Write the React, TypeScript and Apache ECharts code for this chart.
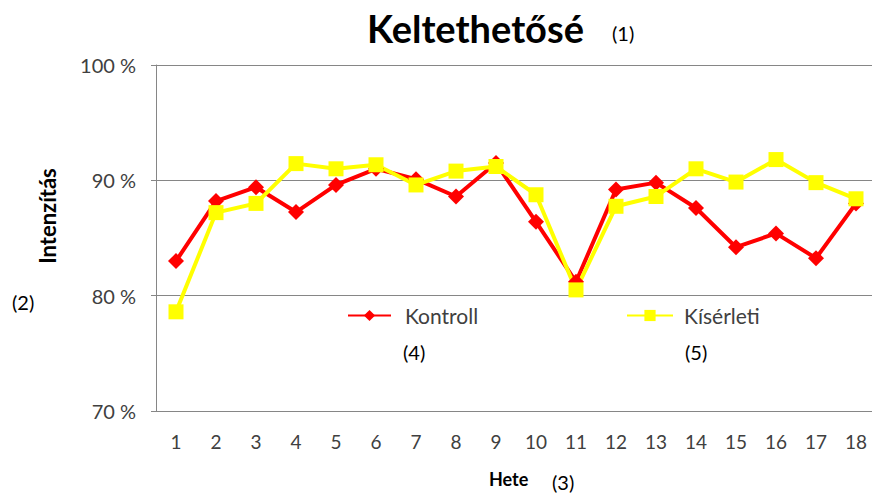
import React, { useEffect, useRef } from "react";
import * as echarts from "echarts";

const weeks = ["1","2","3","4","5","6","7","8","9","10","11","12","13","14","15","16","17","18"];
const kontroll = [83.0, 88.2, 89.4, 87.25, 89.6, 91.0, 90.1, 88.6, 91.5, 86.4, 81.2, 89.2, 89.8, 87.6, 84.2, 85.4, 83.25, 88.0];
const kiserleti = [78.6, 87.2, 88.0, 91.45, 91.0, 91.35, 89.6, 90.8, 91.2, 88.75, 80.5, 87.75, 88.6, 91.0, 89.85, 91.8, 89.8, 88.4];
const yTicks = { min: 70, max: 100, interval: 10 };

const FONT = "Lato, 'Open Sans', sans-serif";

export default function App() {
  const ref = useRef<HTMLDivElement>(null);
  useEffect(() => {
    if (!ref.current) return;
    const chart = echarts.init(ref.current, undefined, { renderer: "svg" });
    const ann = (text: string, x: number, y: number) => ({
      type: "text",
      x,
      y,
      style: { text, fill: "#000", font: `20px ${FONT}`, verticalAlign: "middle" },
    });
    chart.setOption({
      animation: false,
      backgroundColor: "#fff",
      textStyle: { fontFamily: FONT },
      grid: { left: 156, top: 65, width: 720, height: 346, containLabel: false },
      legend: [
        {
          data: ["Kontroll"],
          left: 347,
          top: 305,
          padding: 0,
          itemWidth: 43,
          itemHeight: 14,
          textStyle: { fontSize: 21, color: "#404040", padding: [0, 0, 0, 9] },
        },
        {
          data: ["Kísérleti"],
          left: 626,
          top: 305,
          padding: 0,
          itemWidth: 46,
          itemHeight: 14,
          textStyle: { fontSize: 21, color: "#404040", padding: [0, 0, 0, 6] },
        },
      ],
      xAxis: {
        type: "category",
        data: weeks,
        boundaryGap: true,
        axisLine: { lineStyle: { color: "#868686", width: 1 } },
        axisTick: { show: false },
        axisLabel: { fontSize: 19, color: "#404040", margin: 21 },
      },
      yAxis: {
        type: "value",
        min: yTicks.min,
        max: yTicks.max,
        interval: yTicks.interval,
        axisLine: { show: true, lineStyle: { color: "#868686", width: 1 } },
        axisTick: { show: true, length: 5, lineStyle: { color: "#868686" } },
        axisLabel: { fontSize: 20, color: "#404040", margin: 20, formatter: "{value} %" },
        splitLine: { lineStyle: { color: "#868686", width: 1 } },
      },
      series: [
        {
          name: "Kontroll",
          type: "line",
          data: kontroll,
          symbol: "diamond",
          symbolSize: 16,
          lineStyle: { color: "#ff0000", width: 4 },
          itemStyle: { color: "#ff0000" },
        },
        {
          name: "Kísérleti",
          type: "line",
          data: kiserleti,
          symbol: "rect",
          symbolSize: 15,
          lineStyle: { color: "#ffff00", width: 4 },
          itemStyle: { color: "#ffff00" },
        },
      ],
      graphic: [
        {
          type: "text",
          x: 367,
          y: 28,
          style: {
            text: "Keltethetősé",
            fill: "#000",
            font: `bold 38px ${FONT}`,
            verticalAlign: "middle",
          },
        },
        {
          type: "text",
          x: 47,
          y: 216,
          rotation: Math.PI / 2,
          style: {
            text: "Intenzítás",
            fill: "#000",
            font: `bold 22px ${FONT}`,
            align: "center",
            verticalAlign: "middle",
          },
        },
        {
          type: "text",
          x: 489,
          y: 479,
          style: {
            text: "Hete",
            fill: "#000",
            font: `bold 18px ${FONT}`,
            verticalAlign: "middle",
          },
        },
        ann("(1)", 612, 33),
        ann("(2)", 12, 302),
        ann("(3)", 552, 482),
        ann("(4)", 403, 352),
        ann("(5)", 685, 352),
      ],
    });
    return () => chart.dispose();
  }, []);
  return (
    <div
      style={{ position: "fixed", left: 0, top: 0, width: 872, height: 495, overflow: "hidden", background: "#fff" }}
    >
      <div ref={ref} style={{ width: 900, height: 495 }} />
    </div>
  );
}
